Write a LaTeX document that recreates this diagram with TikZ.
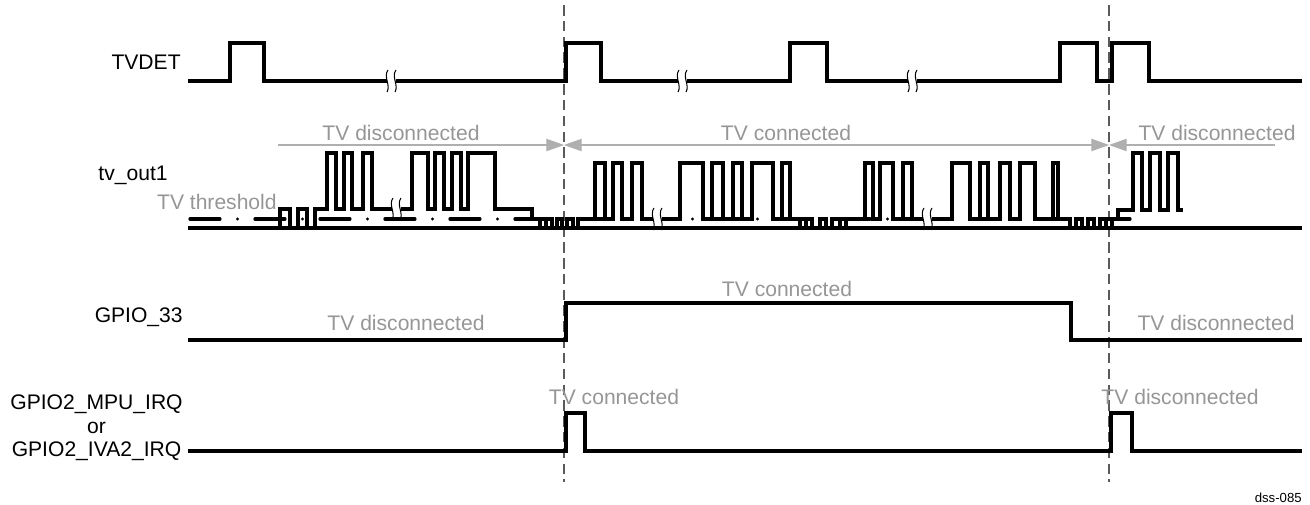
\documentclass[tikz,border=0pt]{standalone}
\usepackage{fontspec}
\setmainfont{Liberation Sans}
\usetikzlibrary{arrows.meta}
\definecolor{tvgrey}{RGB}{150,150,150}
\definecolor{spangrey}{RGB}{175,175,175}
\definecolor{markgrey}{RGB}{90,90,90}

\begin{document}
\begin{tikzpicture}[
    x=0.02cm, y=-0.02cm,
    sig/.style={line width=1.9pt},
    thresh/.style={line width=1.9pt, line cap=round, dash pattern=on 17pt off 10pt on 0pt off 10pt},
    marker/.style={markgrey, line width=0.7pt, dash pattern=on 6pt off 3pt},
    span/.style={spangrey, line width=0.6pt, >={Triangle[length=10pt,width=7pt]}},
    sname/.style={anchor=east, inner sep=0pt, align=center, font=\fontsize{12}{13.3}\selectfont},
    note/.style={tvgrey, inner sep=0pt, font=\fontsize{12}{14}\selectfont},
    brk/.pic={
        \fill[white] (-5,-4) rectangle (4,4);
        \draw[line width=0.6pt] (-4,-11) .. controls (-9,-4) and (-1,4) .. (-5,11);
        \draw[line width=0.6pt] (4,-11) .. controls (-1,-4) and (7,4) .. (3,11);
    }
]
    \useasboundingbox (0,0) rectangle (1310,504);

    % signal names
    \node[sname] (tvdet) at (181,62) {TVDET};
    \node[sname] (tvout) at (168,175) {tv\_out1};
    \node[sname, tvgrey] (thr) at (277,202) {TV threshold};
    \node[sname] (gpio) at (183,317) {GPIO\_33};
    \node[sname] (irq) at (183,428) {GPIO2\_MPU\_IRQ\\or\\GPIO2\_IVA2\_IRQ};

    % connect / disconnect markers
    \foreach \x in {564,1109} {
        \draw[marker] (\x,5) -- (\x,482);
    }

    % TVDET
    \draw[sig] (188,81) -- (230,81) |- (264,43) |- (566,81) |- (601,43) |- (790,81) |- (827,43)
        |- (1060,81) |- (1097,43) |- (1112,81) |- (1149,43) |- (1302,81);
    \foreach \x in {392,683,913} {
        \pic at (\x,81) {brk};
    }

    % tv_out1
    \coordinate (sl) at (278,145);
    \coordinate (dc) at (564,145);
    \coordinate (cd) at (1109,145);
    \coordinate (sr) at (1275,145);
    \draw[span, ->] (sl) -- (dc);
    \draw[span, <->] (dc) -- (cd);
    \draw[span, <-] (cd) -- (sr);
    \node[note] (t1) at (401,133) {TV disconnected};
    \node[note] (t2) at (786,133) {TV connected};
    \node[note] (t3) at (1217,133) {TV disconnected};

    \draw[thresh] (190,219) -- (1147,219);
    \draw[sig] (188,228) -- (1302,228);
    \draw[sig] (280,228) |- (290,209) |- (298,228) |- (307,209) |- (315,228) |- (327,209)
        |- (336,153) |- (344,209) |- (352,153) |- (363,209) |- (372,153) |- (412,209)
        |- (428,153) |- (435,209) |- (444,153) |- (452,209) |- (461,153) |- (468,209)
        |- (495,153) |- (532,209)
        |- (540,219) |- (546,228) |- (552,219) |- (557,228) |- (562,219) |- (567,228)
        |- (573,219) |- (578,228) |- (595,219)
        |- (605,163) |- (613,219) |- (622,163) |- (632,219) |- (642,163) |- (680,219)
        |- (703,163) |- (712,219) |- (723,163) |- (733,219) |- (742,163) |- (752,219)
        |- (773,163) |- (782,219) |- (790,163) |- (800,219)
        |- (806,228) |- (812,219) |- (820,228) |- (826,219) |- (832,228) |- (840,219)
        |- (846,228) |- (865,219)
        |- (873,163) |- (880,219) |- (893,163) |- (903,219) |- (912,163) |- (952,219)
        |- (970,163) |- (980,219) |- (988,163) |- (1000,219) |- (1010,163) |- (1020,219)
        |- (1035,163) |- (1053,219) |- (1058,163) |- (1070,219)
        |- (1076,228) |- (1082,219) |- (1088,228) |- (1094,219) |- (1100,228) |- (1106,219)
        |- (1112,228) |- (1118,219) |- (1133,210)
        |- (1142,153) |- (1150,210) |- (1160,153) |- (1168,210) |- (1178,153) |- (1183,210);
    \pic at (397,209) {brk};
    \pic at (658,219) {brk};
    \pic at (928,219) {brk};

    % GPIO_33
    \draw[sig] (188,340) -- (566,340) |- (1071,303) |- (1302,340);
    \node[note] (g1) at (406,323) {TV disconnected};
    \node[note] (g2) at (787,289) {TV connected};
    \node[note] (g3) at (1216,323) {TV disconnected};

    % GPIO2 irq
    \draw[sig] (188,451) -- (566,451) |- (585,413) |- (1111,451) |- (1132,413) |- (1302,451);
    \node[note] (i1) at (614,397) {TV connected};
    \node[note] (i2) at (1180,397) {TV disconnected};

    \node[anchor=east, inner sep=0pt, font=\fontsize{7.5}{9}\selectfont] (tag) at (1302,498) {dss-085};
\end{tikzpicture}
\end{document}
